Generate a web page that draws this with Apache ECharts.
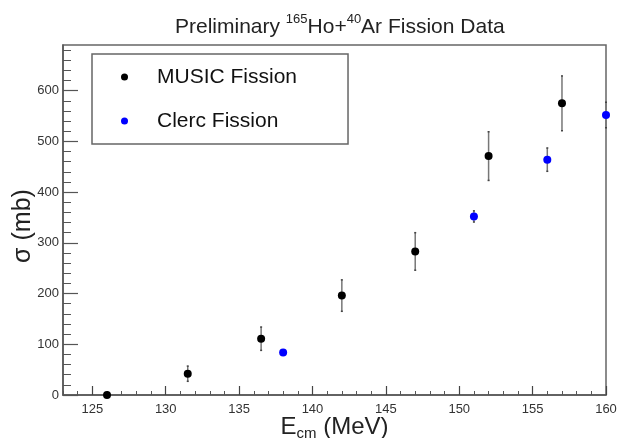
<!DOCTYPE html>
<html>
<head>
<meta charset="utf-8">
<script src="https://cdn.jsdelivr.net/npm/echarts@6/dist/echarts.min.js"></script>
<style>
html,body{margin:0;padding:0;background:#fff;}
#c{width:617px;height:438px;}
</style>
</head>
<body>
<div id="c"></div>
<script>
// ---- data ----
const musicE     = [126, 131.5, 136.5, 142, 147, 152, 157];
const musicSigma = [0, 42, 111, 196, 283, 471, 575];
const musicErr   = [3, 15, 23, 31, 37, 48, 54];

const clercE     = [138, 151, 156, 160];
const clercSigma = [84, 352, 464, 552];
const clercErr   = [2, 11, 23, 25];

const xMajorTicks = [125, 130, 135, 140, 145, 150, 155, 160];
const xMinorTicks = [123,124,126,127,128,129,131,132,133,134,136,137,138,139,141,142,143,144,146,147,148,149,151,152,153,154,156,157,158,159];
const yMajorTicks = [0, 100, 200, 300, 400, 500, 600];
const yMinorTicks = [20,40,60,80,120,140,160,180,220,240,260,280,320,340,360,380,420,440,460,480,520,540,560,580,620,640,660,680];

const FONT = 'Liberation Sans, Arial, Helvetica, sans-serif';

const chart = echarts.init(document.getElementById('c'), null, {renderer: 'canvas'});

function errRender(params, api) {
  const x = api.value(0), y = api.value(1), e = api.value(2);
  const top = api.coord([x, y + e]);
  const bot = api.coord([x, y - e]);
  const st = {stroke: '#777', lineWidth: 1.5};
  return {
    type: 'group',
    children: [
      {type: 'line', shape: {x1: top[0], y1: top[1], x2: bot[0], y2: bot[1]}, style: st},
      {type: 'line', shape: {x1: top[0] - 1, y1: top[1], x2: top[0] + 1, y2: top[1]}, style: {stroke: '#444', lineWidth: 1.5}},
      {type: 'line', shape: {x1: bot[0] - 1, y1: bot[1], x2: bot[0] + 1, y2: bot[1]}, style: {stroke: '#444', lineWidth: 1.5}}
    ]
  };
}

const option = {
  animation: false,
  backgroundColor: '#fff',
  title: {
    left: 175,
    top: 13,
    padding: 0,
    text: '{a|Preliminary }{s|165}{a|Ho+}{s|40}{a|Ar Fission Data}',
    textStyle: {
      fontWeight: 'normal',
      rich: {
        a: {fontSize: 21, fontFamily: FONT, fontWeight: 'normal', color: '#222', lineHeight: 28},
        s: {fontSize: 13, fontFamily: FONT, fontWeight: 'normal', color: '#222', lineHeight: 14, verticalAlign: 'top'}
      }
    }
  },
  legend: {
    left: 92,
    top: 54,
    orient: 'vertical',
    padding: [11, 51, 11, 29],
    itemGap: 20,
    itemWidth: 7,
    itemHeight: 7,
    icon: 'circle',
    borderColor: '#666',
    borderWidth: 1.5,
    selectedMode: false,
    data: ['MUSIC Fission', 'Clerc Fission'],
    textStyle: {fontSize: 21, fontFamily: FONT, color: '#111', lineHeight: 24, padding: [0, 0, 0, 24]}
  },
  grid: {
    left: 63, right: 11, top: 45, bottom: 43,
    outerBoundsMode: 'none',
    containLabel: false,
    show: true, borderColor: '#666', borderWidth: 1.5, backgroundColor: 'transparent'
  },
  xAxis: [
    {
      type: 'value', min: 123, max: 160,
      name: '{a|E}{b|cm}{a|\u00a0(MeV)}',
      nameLocation: 'middle',
      nameGap: 18,
      nameMoveOverlap: false,
      nameTextStyle: {
        rich: {
          a: {fontSize: 24, fontFamily: FONT, color: '#222', lineHeight: 28},
          b: {fontSize: 15, fontFamily: FONT, color: '#222', lineHeight: 15, verticalAlign: 'bottom'}
        }
      },
      axisLine: {show: true, onZero: false, lineStyle: {color: '#555', width: 1.5}},
      axisTick: {show: true, inside: true, length: 9, customValues: xMajorTicks, lineStyle: {color: '#444', width: 1.2}},
      axisLabel: {show: true, margin: 8, customValues: xMajorTicks, fontSize: 13, fontFamily: FONT, color: '#333'},
      splitLine: {show: false}
    },
    {
      type: 'value', min: 123, max: 160, position: 'bottom',
      axisLine: {show: false},
      axisTick: {show: true, inside: true, length: 4, customValues: xMinorTicks, lineStyle: {color: '#555', width: 1}},
      axisLabel: {show: false},
      splitLine: {show: false}
    }
  ],
  yAxis: [
    {
      type: 'value', min: 0, max: 690,
      axisLine: {show: true, onZero: false, lineStyle: {color: '#555', width: 1.5}},
      axisTick: {show: true, inside: true, length: 15, customValues: yMajorTicks, lineStyle: {color: '#555', width: 1.2}},
      axisLabel: {show: true, margin: 4, customValues: yMajorTicks, fontSize: 13, fontFamily: FONT, color: '#333'},
      splitLine: {show: false}
    },
    {
      type: 'value', min: 0, max: 690, position: 'left',
      axisLine: {show: false},
      axisTick: {show: true, inside: true, length: 8, customValues: yMinorTicks, lineStyle: {color: '#555', width: 1}},
      axisLabel: {show: false},
      splitLine: {show: false}
    }
  ],
  graphic: [
    {
      type: 'text',
      x: 23, y: 226,
      rotation: Math.PI / 2,
      style: {text: 'σ (mb)', fontSize: 25, fontFamily: FONT, fill: '#222', align: 'center', verticalAlign: 'middle'}
    }
  ],
  series: [
    {
      type: 'custom', name: 'MUSIC err', renderItem: errRender, clip: false, z: 1,
      encode: {x: 0, y: 1},
      data: musicE.map((e, i) => [e, musicSigma[i], musicErr[i]])
    },
    {
      type: 'custom', name: 'Clerc err', renderItem: errRender, clip: false, z: 1,
      encode: {x: 0, y: 1},
      data: clercE.map((e, i) => [e, clercSigma[i], clercErr[i]])
    },
    {
      type: 'scatter', name: 'MUSIC Fission', symbol: 'circle', symbolSize: 8, clip: false, z: 3,
      itemStyle: {color: '#000', opacity: 1},
      data: musicE.map((e, i) => [e, musicSigma[i]])
    },
    {
      type: 'scatter', name: 'Clerc Fission', symbol: 'circle', symbolSize: 8, clip: false, z: 3,
      itemStyle: {color: '#0000ff', opacity: 1},
      data: clercE.map((e, i) => [e, clercSigma[i]])
    }
  ]
};
chart.setOption(option);
</script>
</body>
</html>
